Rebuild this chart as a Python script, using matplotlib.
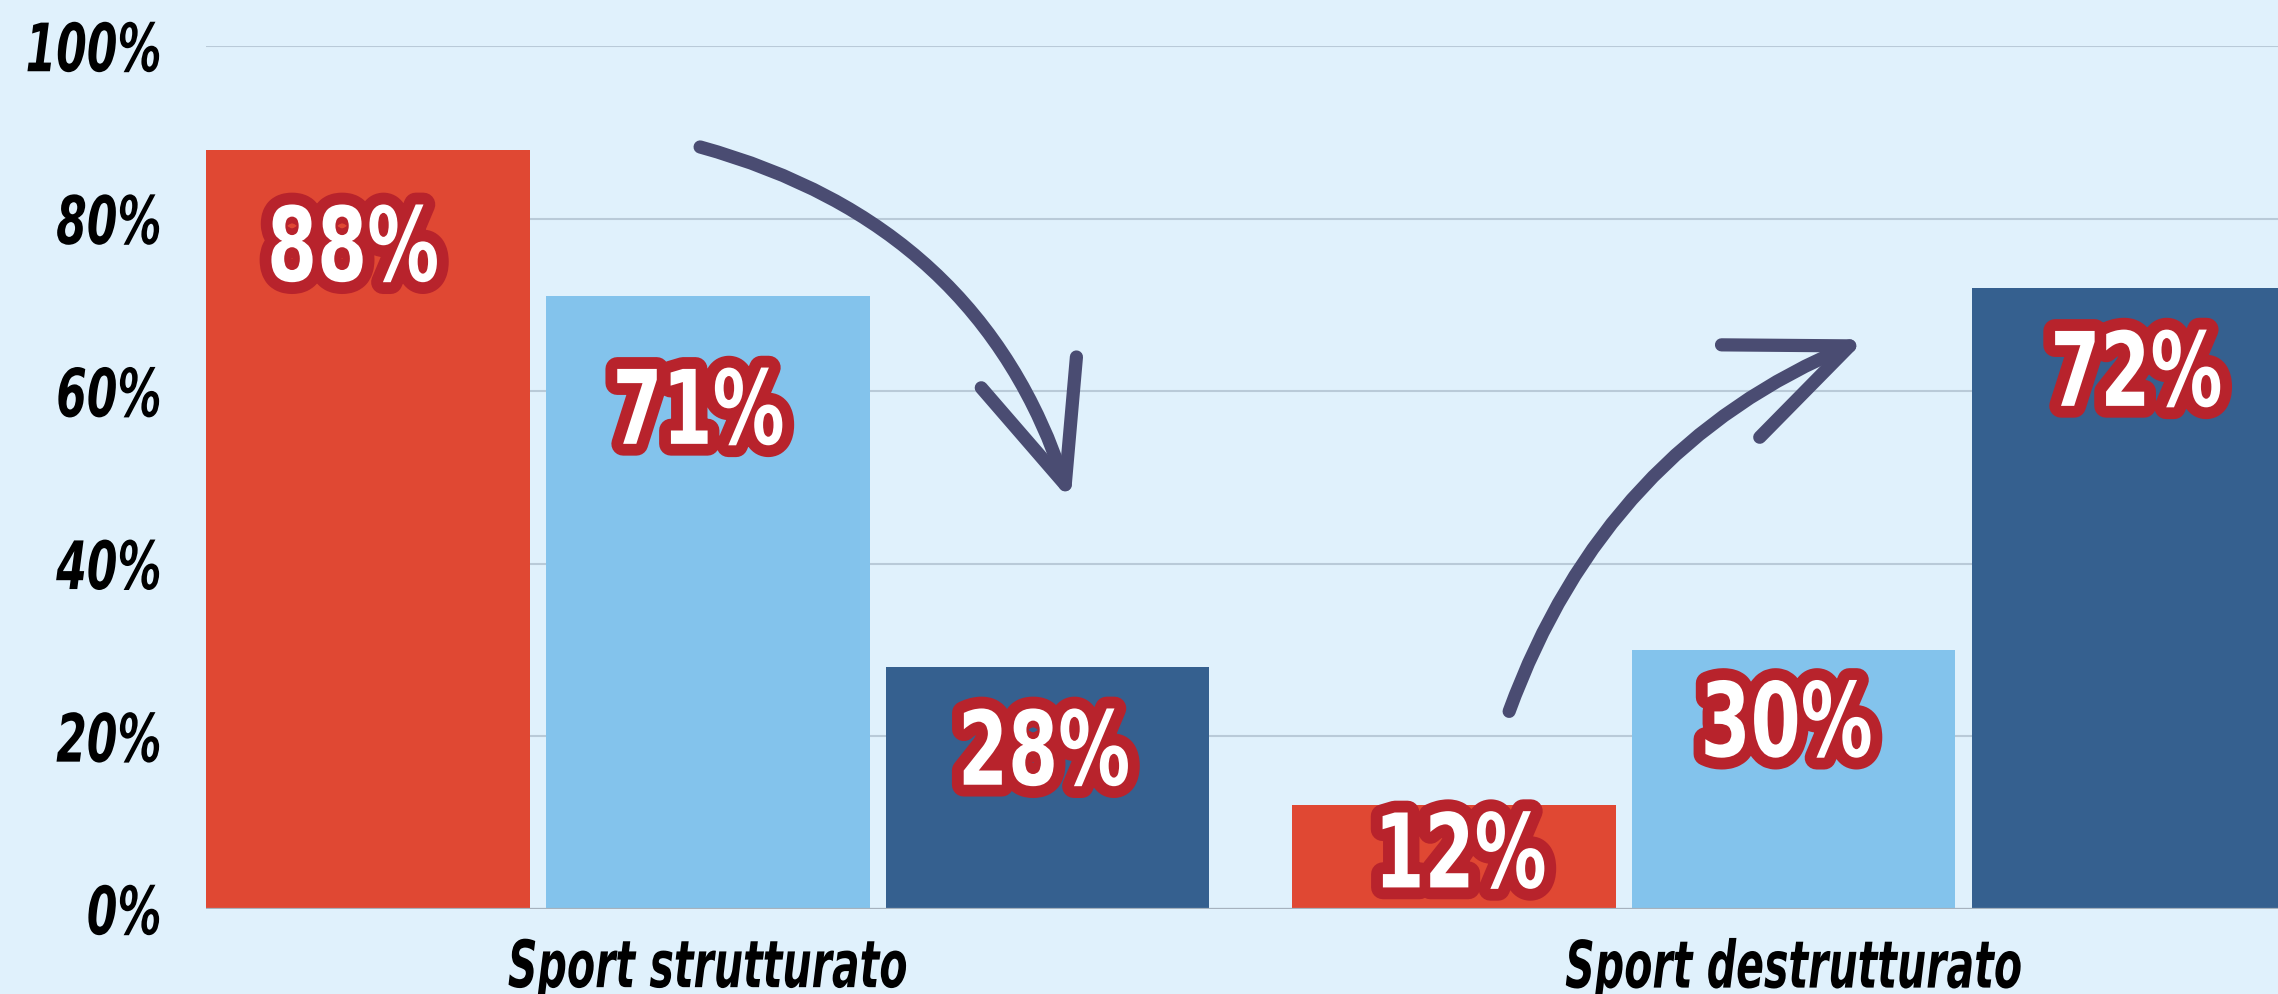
import matplotlib
matplotlib.use("Agg")
import matplotlib.pyplot as plt
import matplotlib.patheffects as pe
from matplotlib.patches import FancyArrowPatch
from matplotlib.transforms import Affine2D
import numpy as np

# ---- data ----
categories = ["Sport strutturato", "Sport destrutturato"]
series_a = [88, 12]   # red
series_b = [71, 30]   # light blue
series_c = [28, 72]   # dark blue
yticks = [0, 20, 40, 60, 80, 100]
ytick_labels = ["0%", "20%", "40%", "60%", "80%", "100%"]

# ---- style ----
BG = "#e0f1fc"
COLORS = ["#e04833", "#83c3ec", "#35608f"]
OUTLINE = "#b8232c"
ARROW = "#4a4c72"
GRID = "#b9cad8"
FONT = "DejaVu Sans"


def _scale(tpath, sx, sy, xanchor, yanchor):
    ext = tpath.get_extents()
    cx = {"right": ext.x1, "left": ext.x0}.get(xanchor, (ext.x0 + ext.x1) / 2)
    cy = {"top": ext.y1, "baseline": 0.0}.get(yanchor, (ext.y0 + ext.y1) / 2)
    return Affine2D().translate(-cx, -cy).scale(sx, sy).translate(cx, cy)


class ScaleNormal(pe.AbstractPathEffect):
    """Draw the text glyphs with an anisotropic scale (text stays a Text object)."""
    def __init__(self, sx, sy=1.0, xanchor="center", yanchor="center"):
        super().__init__()
        self.args = (sx, sy, xanchor, yanchor)

    def draw_path(self, renderer, gc, tpath, affine, rgbFace=None):
        renderer.draw_path(gc, tpath, _scale(tpath, *self.args) + affine, rgbFace)


class ScaleStroke(pe.Stroke):
    def __init__(self, sx, sy=1.0, xanchor="center", yanchor="center", **kw):
        super().__init__(**kw)
        self.args = (sx, sy, xanchor, yanchor)

    def draw_path(self, renderer, gc, tpath, affine, rgbFace=None):
        super().draw_path(renderer, gc, tpath, _scale(tpath, *self.args) + affine, rgbFace)


fig = plt.figure(figsize=(22.78, 9.95), dpi=100, facecolor=BG)
ax = fig.add_axes([206 / 2278, 1 - 910 / 995, 1 - 206 / 2278, (910 - 47) / 995])
ax.set_facecolor(BG)

x = np.arange(len(categories))
width = 0.298
step = 0.313
series = [series_a, series_b, series_c]
label_drop = [[15.2, 17.1, 13.6], [9.5, 12.3, 13.7]]        # baseline below bar top (%)
label_shift = [[-0.014, -0.009, -0.004], [0.005, -0.007, 0.002]]  # small x nudges

for i, (vals, col) in enumerate(zip(series, COLORS)):
    xs = x + (i - 1) * step
    ax.bar(xs, vals, width=width, color=col, zorder=3)
    for j, (xx, v) in enumerate(zip(xs, vals)):
        ax.text(xx + label_shift[j][i], v - label_drop[j][i], f"{v}%",
                ha="center", va="baseline",
                fontsize=74, fontweight="bold", family=FONT, color="white", zorder=5,
                path_effects=[ScaleStroke(0.70, 1.0, "center", "baseline", linewidth=17,
                                          foreground=OUTLINE, joinstyle="round"),
                              ScaleNormal(0.70, 1.0, "center", "baseline")])

ax.set_xlim(-0.462, 1.446)
ax.set_ylim(0, 100)
ax.set_yticks(yticks)
ax.set_yticklabels(ytick_labels)
ax.set_xticks(x)
ax.set_xticklabels(categories)
for lab in ax.get_yticklabels():
    lab.set_fontsize(31.7)
    lab.set_fontweight("bold")
    lab.set_fontstyle("italic")
    lab.set_family(FONT)
    lab.set_path_effects([ScaleNormal(1.0, 1.515, "right", "center")])
for lab in ax.get_xticklabels():
    lab.set_fontsize(29.6)
    lab.set_fontweight("bold")
    lab.set_fontstyle("italic")
    lab.set_family(FONT)
    lab.set_path_effects([ScaleNormal(1.0, 1.59, "center", "top")])
ax.tick_params(axis="y", length=0, pad=32, colors="black")
ax.tick_params(axis="x", length=0, pad=21, colors="black")

ax.grid(axis="y", color=GRID, linewidth=1.5, zorder=0)
ax.set_axisbelow(True)
for s in ax.spines.values():
    s.set_visible(False)
ax.axhline(0, color="#a6b2be", linewidth=1.6, zorder=4)

# arrows (annotations)
arr_kw = dict(arrowstyle="->,head_length=8.5,head_width=3.6", mutation_scale=10,
              color=ARROW, linewidth=9.5, capstyle="round", joinstyle="round",
              shrinkA=0, shrinkB=0, zorder=6)
a1 = FancyArrowPatch((-0.007, 88.3), (0.334, 47.3),
                     connectionstyle="arc3,rad=-0.27", **arr_kw)
a2 = FancyArrowPatch((0.738, 22.9), (1.066, 66.0),
                     connectionstyle="arc3,rad=-0.22", **arr_kw)
ax.add_patch(a1)
ax.add_patch(a2)

fig.savefig("out.png", dpi=100, facecolor=BG)
